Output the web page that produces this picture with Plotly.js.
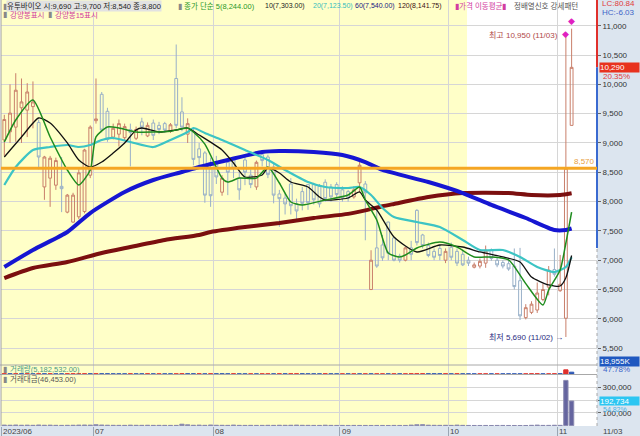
<!DOCTYPE html>
<html><head><meta charset="utf-8">
<script src="https://cdn.plot.ly/plotly-3.0.1.min.js"></script>
<style>html,body{margin:0;padding:0;background:#fff}#chart{width:640px;height:436px}</style>
</head><body><div id="chart"></div>
<script>
const dates = [
'2023-06-09','2023-06-12','2023-06-13','2023-06-14','2023-06-15','2023-06-16','2023-06-19','2023-06-20','2023-06-21','2023-06-22','2023-06-23','2023-06-26','2023-06-27','2023-06-28','2023-06-29','2023-06-30',
'2023-07-03','2023-07-04','2023-07-05','2023-07-06','2023-07-07','2023-07-10','2023-07-11','2023-07-12','2023-07-13','2023-07-14','2023-07-17','2023-07-18','2023-07-19','2023-07-20','2023-07-21','2023-07-24','2023-07-25','2023-07-26','2023-07-27','2023-07-28','2023-07-31',
'2023-08-01','2023-08-02','2023-08-03','2023-08-04','2023-08-07','2023-08-08','2023-08-09','2023-08-10','2023-08-11','2023-08-14','2023-08-16','2023-08-17','2023-08-18','2023-08-21','2023-08-22','2023-08-23','2023-08-24','2023-08-25','2023-08-28','2023-08-29','2023-08-30','2023-08-31',
'2023-09-01','2023-09-04','2023-09-05','2023-09-06','2023-09-07','2023-09-08','2023-09-11','2023-09-12','2023-09-13','2023-09-14','2023-09-15','2023-09-18','2023-09-19','2023-09-20','2023-09-21','2023-09-22','2023-09-25','2023-09-26','2023-09-27',
'2023-10-04','2023-10-05','2023-10-06','2023-10-10','2023-10-11','2023-10-12','2023-10-13','2023-10-16','2023-10-17','2023-10-18','2023-10-19','2023-10-20','2023-10-23','2023-10-24','2023-10-25','2023-10-26','2023-10-27','2023-10-30','2023-10-31',
'2023-11-01','2023-11-02','2023-11-03'];

const opens = [9050,9190,9270,9600,9560,9620,9350,8250,8400,8280, 8260,7820,7650,7740,7830,8450,9380,9830,9540,9100,
 9150,9090,9230,9080,9360,9120,9340,9300,9330,9200, 10100,9530,9150,9200,8900,8830,8560,8670,8160,8670,
 8720,8400,8710,8450,8250,8800,8760,8590,8130,8060, 8300,7960,8170,8290,8290,8260,8330,8250,8290,8200,
 8170,8080,8320,8300,6500,7210,7260,7650,7380,7070, 7000,7210,7850,7430,7250,7150,7200,7000,7220,7150,
 7100,7000,6880,6900,6950,7170,7000,6960,6940,6900, 6650,6020,6110,6150,6330,6540,6840,6480,6010,9300];
const highs = [9480,10000,10190,10100,10020,10050,9400,8780,8780,8750, 8760,8130,8150,8550,8900,9300,10100,9870,9600,9330,
 9400,9330,9330,9280,9430,9350,9400,9360,9360,9340, 10680,9780,9420,9250,9000,8860,8750,8780,8450,8700,
 8760,8500,8760,8550,8700,8880,8800,8640,8200,8150, 8400,8050,8250,8290,8320,8300,8380,8300,8330,8260,
 8200,8260,8700,8350,7170,7850,7430,7660,7400,7110, 7230,7330,7870,7450,7300,7200,7260,7200,7300,7200,
 7180,7060,6960,7030,7250,7200,7050,7000,6990,7200, 7210,6250,6300,6620,6600,6900,7200,7090,10850,10950];
const lows = [8780,9000,9020,9000,9100,9250,8550,8030,7910,8200, 7820,7800,7640,7700,7800,8400,9330,9180,9020,9060,
 8940,9050,8600,9050,9130,9100,9050,9150,9180,9170, 9250,9200,9000,8620,8600,7980,7910,8300,8100,8110,
 8400,8030,8280,8230,8200,8600,8400,7970,7570,7780, 7780,7690,7850,7860,7950,7900,8000,8000,8060,8000,
 8000,8050,8150,7340,6490,6870,6990,7000,6980,6960, 6980,7000,7250,7200,7050,7000,7000,6950,7000,6900,
 6900,6900,6860,6860,6870,6990,6880,6860,6820,6500, 5980,5990,6080,6100,6300,6400,6720,6460,5690,9300];
const closes = [9400,9510,9900,9700,9870,9700,8760,8760,8740,8700, 8220,8110,8110,8490,8880,9270,9410,9220,9060,9250,
 9330,9280,9180,9230,9270,9300,9130,9230,9220,9310, 9300,9270,9330,8720,8750,8110,8100,8420,8400,8500,
 8570,8200,8500,8290,8670,8700,8460,8110,8050,7960, 7930,7840,7970,7980,8030,7960,8050,8080,8120,8060,
 8060,8200,8620,8150,7000,6900,7040,7120,7000,7000, 7210,7100,7300,7250,7080,7050,7080,7150,7050,6950,
 6920,6950,6920,6980,7170,7030,6920,6900,6850,6550, 6050,6190,6250,6440,6500,6830,6760,6590,8570,10290];

const volumeK = [420,330,470,290,370,240,540,310,400,260,230,290,340,450,520,430,
 700,480,330,250,230,210,390,280,240,300,220,230,210,190,190,1070,630,290,410,250,560,
 340,290,240,500,230,200,250,200,220,280,240,370,300,340,480,290,260,210,200,400,230,190,
 200,170,200,160,180,150,160,170,140,190,160,170,470,870,1030,470,330,290,350,
 250,550,270,180,160,160,170,150,200,180,160,140,130,140,330,630,240,270,420,
 320,44500,18955];
const tradeValue = [3900,3100,4500,2800,3600,2300,4800,2800,3500,2200,1800,2300,2800,3900,4500,3800,
 6700,4500,3000,2300,2100,1900,3600,2500,2200,2800,2000,2100,1900,1800,1800,11000,6000,2600,3800,2200,4700,
 2800,2400,2000,4200,1900,1700,2100,1700,1800,2300,1900,2900,2400,2800,3900,2500,2100,1700,1600,3200,1800,1500,
 1600,1400,1600,1300,1400,1200,1300,1400,1100,1500,1300,1400,3900,6600,7400,3300,2300,2000,2500,
 1800,3900,1900,1300,1100,1100,1200,1000,1400,1300,1100,1000,900,1000,2200,3900,1600,1800,2800,
 2100,354000,192734];

const ma5Idx = [0,2,5,8,11,13,15,16,18,20,23,26,29,32,33,35,38,39,41,44,46,48,50,52,56,60,62,63,65,67,69,70,72,76,79,82,85,88,91,94,95,97,98,99];
const ma5Val = [9016,9392,9733,9102,8539,8283,8539,9102,9272,9255,9187,9187,9200,9255,9187,8980,8400,8334,8402,8400,8590,8317,7993,7942,8027,8112,8249,8027,7686,7123,7055,7089,7208,7310,7225,7055,7055,7004,6600,6236,6492,6833,7293,7820];
const ma10Idx = [0,3,6,8,11,13,15,17,19,21,23,24,27,30,32,34,38,40,42,45,46,48,50,53,55,56,60,62,63,65,68,72,76,80,83,87,90,92,95,97,98,99];
const ma10Val = [8761,9102,9426,9341,9000,8710,8590,8675,8829,9000,9221,9255,9187,9221,9255,9136,8880,8658,8419,8454,8573,8488,8334,8249,8078,8027,8061,8164,8027,7856,7396,7140,7259,7225,7140,7055,6969,6713,6577,6560,6700,7080];
const ma20Idx = [0,2,5,8,11,13,15,17,19,22,26,29,32,33,35,38,42,46,49,53,56,60,62,64,66,68,72,76,80,83,87,90,93,96,98,99];
const ma20Val = [8283,8590,8880,8931,8965,8931,8965,9051,9085,9016,8931,9051,9187,9255,9170,9051,8880,8710,8539,8334,8249,8232,8249,8112,7891,7737,7652,7566,7345,7174,7174,7055,6884,6799,6884,7050];
const ma60Idx = [0,5,11,15,21,26,31,34,39,45,48,54,59,63,66,74,80,85,91,96,98,99];
const ma60Val = [6884,7174,7481,7805,8164,8368,8505,8590,8710,8846,8863,8846,8795,8675,8539,8334,8146,7942,7720,7515,7515,7540];
const ma120Idx = [0,5,11,17,22,28,34,36,42,48,54,60,63,66,68,74,80,88,92,97,99];
const ma120Val = [6696,6867,6969,7123,7225,7345,7430,7481,7566,7635,7720,7790,7850,7920,7960,8078,8146,8146,8112,8112,8142];

const monthStarts = ['2023-06-09','2023-07-03','2023-08-01','2023-09-01','2023-10-04','2023-11-01'];
const monthLabels = ['2023/06','07','08','09','10','11'];
const levelPrice = 8570;
const hcLowPrice = 7210;
const volTicks = [100000,200000,300000];
const volTickText = ['100,000','','300,000'];

const FONT = 'Liberation Sans, Noto Sans CJK KR, sans-serif';
const W = 640, H = 436;
const px = v => v / W;
const py = v => 1 - v / H;
const X = dates.map((d, i) => i);
const monthIdx = monthStarts.map(d => dates.indexOf(d));
const gridX = monthIdx.map(i => i - 0.5);
const last = dates.length - 1;
const fmt = v => v.toLocaleString('en-US');

const volColors = volumeK.map((v, i) => (i === 0 || v >= volumeK[i-1]) ? '#e0302c' : '#2c56b4');

const traces = [
  {type:'candlestick', x:X, open:opens, high:highs, low:lows, close:closes, xaxis:'x', yaxis:'y',
   whiskerwidth:0, hoverinfo:'skip',
   increasing:{line:{color:'#c97f6a', width:1}, fillcolor:'rgba(0,0,0,0)'},
   decreasing:{line:{color:'#98b0c8', width:1}, fillcolor:'rgba(0,0,0,0)'}},
  {type:'scatter', mode:'lines', x:ma120Idx, y:ma120Val, yaxis:'y', line:{color:'#7b0f0f', width:4, shape:'spline', smoothing:0.6}, hoverinfo:'skip'},
  {type:'scatter', mode:'lines', x:ma60Idx, y:ma60Val, yaxis:'y', line:{color:'#1616d2', width:4, shape:'spline', smoothing:0.6}, hoverinfo:'skip'},
  {type:'scatter', mode:'lines', x:ma20Idx, y:ma20Val, yaxis:'y', line:{color:'#3cc4c4', width:2.2, shape:'spline', smoothing:0.6}, hoverinfo:'skip'},
  {type:'scatter', mode:'lines', x:ma10Idx, y:ma10Val, yaxis:'y', line:{color:'#111111', width:1.3, shape:'spline', smoothing:0.6}, hoverinfo:'skip'},
  {type:'scatter', mode:'lines', x:ma5Idx, y:ma5Val, yaxis:'y', line:{color:'#1e8c1e', width:1.5, shape:'spline', smoothing:0.6}, hoverinfo:'skip'},
  {type:'bar', x:X, y:volumeK, yaxis:'y2', width:0.75, marker:{color:volColors, line:{color:volColors, width:1}}, hoverinfo:'skip'},
  {type:'bar', x:X, y:tradeValue, yaxis:'y3', width:0.75, marker:{color:'#65659f', line:{color:'#8a8ab0', width:1}}, hoverinfo:'skip'}
];

function A(x, y, text, color, opt) {
  return Object.assign({xref:'paper', yref:'paper', x:px(x), y:py(y), text:text, showarrow:false,
    xanchor:'left', yanchor:'middle', font:{family:FONT, size:7.5, color:color}}, opt || {});
}
const f7 = c => ({font:{family:FONT, size:7, color:c}});
const f8 = c => ({font:{family:FONT, size:8, color:c}});

const annotations = [
  A(1, 6, '▮', '#888'),
  A(6, 6, '유투바이오 시:9,690 고:9,700 저:8,540 종:8,800', '#222', {bgcolor:'#e2e2e2', borderpad:0}),
  A(176, 6, '▮', '#888'),
  A(182, 6, '종가 단순 5(8,244.00)', '#2a982a'),
  A(263, 6, '10(7,303.00)', '#222', f7('#222')),
  A(311, 6, '20(7,123.50)', '#35bcbc', f7('#35bcbc')),
  A(353, 6, '60(7,540.00)', '#202080', f7('#202080')),
  A(396, 6, '120(8,141.75)', '#3a1010', f7('#3a1010')),
  A(453, 6, '▮가격 이동평균▮', '#d23ca0'),
  A(512, 6, '정배열신호 강세패턴', '#555'),
  A(1, 15, '▮', '#888'),
  A(8, 15, '강양봉표시', '#d23ca0'),
  A(46, 15, '▮', '#888'),
  A(53, 15, '강양봉15표시', '#d23ca0'),
  A(600, 4, 'LC:80.84', '#e03c3c', f8('#e03c3c')),
  A(600, 13, 'HC:-6.03', '#3c64c8', f8('#3c64c8')),
  {xref:'paper', yref:'y', x:px(599), y:closes[last], text:fmt(closes[last]), showarrow:false, xanchor:'left', yanchor:'middle',
   bgcolor:'#e8321e', width:39, height:9, align:'left', borderpad:0, font:{family:FONT, size:8, color:'#fff'}},
  A(601, 76, '20.35%', '#e03c3c', f8('#e03c3c')),
  A(599, 361, fmt(volumeK[last]) + 'K', '#fff', {bgcolor:'#1f58c0', width:39, height:9, align:'left', borderpad:0, font:{family:FONT, size:8, color:'#fff'}}),
  A(601, 369.5, '47.78%', '#3c64c8', f8('#3c64c8')),
  {xref:'paper', yref:'y3', x:px(599), y:tradeValue[last], text:fmt(tradeValue[last]), showarrow:false, xanchor:'left', yanchor:'middle',
   bgcolor:'#2cc6f2', width:39, height:8, align:'left', borderpad:0, font:{family:FONT, size:8, color:'#fff'}},
  A(601, 409, '54.82%', '#4ab4e6', f7('#4ab4e6')),
  {xref:'paper', yref:'y', x:px(597), y:levelPrice, text:fmt(levelPrice), showarrow:false, xanchor:'right', yanchor:'bottom',
   font:{family:FONT, size:8, color:'#e8a040'}},
  {xref:'x', yref:'y', x:last-1, y:highs[last-1], text:'최고 10,950 (11/03)', showarrow:false, xanchor:'right', yanchor:'middle', xshift:-6,
   font:{family:FONT, size:8, color:'#b04848'}},
  {xref:'x', yref:'y', x:last-1, y:highs[last-1], text:'◆', showarrow:false, xanchor:'center', yanchor:'middle',
   font:{family:FONT, size:7, color:'#e020c0'}},
  {xref:'x', yref:'y', x:last, y:highs[last], text:'◆', showarrow:false, xanchor:'center', yanchor:'middle', yshift:7,
   font:{family:FONT, size:7, color:'#e020c0'}},
  {xref:'x', yref:'y', x:last-1, y:lows[last-1], text:'최저 5,690 (11/02) →', showarrow:false, xanchor:'right', yanchor:'middle', xshift:-1,
   font:{family:FONT, size:8, color:'#2a2a80'}},
  A(1, 369, '▮', '#888'),
  A(8, 369, '거래량(5,182,532.00)', '#4a9a86'),
  A(1, 379, '▮', '#888'),
  A(8, 379, '거래대금(46,453.00)', '#555'),
  A(601, 431, '11/03', '#444', f8('#444'))
];
monthIdx.forEach((mi, k) => {
  annotations.push({xref:'x', yref:'paper', x:mi - 0.5, y:py(431), text:monthLabels[k], showarrow:false,
    xanchor:'left', yanchor:'middle', font:{family:FONT, size:8, color:'#444'}});
});

const shapes = [
  {type:'rect', xref:'paper', yref:'paper', x0:px(597), x1:1, y0:0, y1:1, fillcolor:'#dce5ef', line:{width:0}, layer:'below'},
  {type:'rect', xref:'paper', yref:'paper', x0:0, x1:1, y0:0, y1:py(426), fillcolor:'#dce5ef', line:{width:0}, layer:'below'},
  {type:'rect', xref:'x', yref:'paper', x0:-0.6, x1:80.75, y0:py(426), y1:1, fillcolor:'#ffffc8', line:{width:0}, layer:'below'},
  {type:'line', xref:'paper', yref:'paper', x0:0, x1:px(597), y0:py(365), y1:py(365), line:{color:'#a8a8a8', width:1}},
  {type:'line', xref:'paper', yref:'paper', x0:0, x1:px(597), y0:py(374.5), y1:py(374.5), line:{color:'#a8a8a8', width:1}},
  {type:'line', xref:'paper', yref:'paper', x0:px(1), x1:px(1), y0:py(426), y1:1, line:{color:'#a0a0a0', width:1}},
  {type:'line', xref:'paper', yref:'paper', x0:px(597), x1:px(597), y0:py(426), y1:1, line:{color:'#a8a8a8', width:1, dash:'dot'}},
  {type:'line', xref:'paper', yref:'y', x0:px(597), x1:px(597), y0:closes[last], y1:11439, line:{color:'#e0302c', width:2}},
  {type:'line', xref:'paper', yref:'y', x0:px(597), x1:px(597), y0:hcLowPrice, y1:closes[last], line:{color:'#3a6ad0', width:2}},
  {type:'line', xref:'paper', yref:'y', x0:px(1), x1:px(597), y0:levelPrice, y1:levelPrice, line:{color:'#f5a623', width:3}}
];

const layout = {
  width:W, height:H, margin:{l:0, r:0, t:0, b:0}, paper_bgcolor:'#ffffff', plot_bgcolor:'rgba(0,0,0,0)',
  showlegend:false, barmode:'overlay', font:{family:FONT, size:8, color:'#333'}, hovermode:false,
  xaxis:{domain:[px(1), px(597)], range:[-0.576, 103.43], anchor:'y3', tickmode:'array', tickvals:gridX,
    showticklabels:false, ticks:'outside', ticklen:10, tickcolor:'#9aa6b4', showgrid:true, gridcolor:'#d6d6d6',
    zeroline:false, showline:false, rangeslider:{visible:false}, fixedrange:true},
  yaxis:{domain:[py(365), 1], range:[5212, 11439], side:'right', anchor:'x', dtick:500, tick0:0, tickformat:',d',
    ticks:'outside', ticklen:3, tickcolor:'#666', showgrid:true, gridcolor:'#d6d6d6', zeroline:false, showline:false,
    tickfont:{family:FONT, size:8, color:'#333'}, fixedrange:true},
  yaxis2:{domain:[py(374.5), py(365)], range:[-6600, 98000], side:'right', anchor:'x', showticklabels:false,
    ticks:'', showgrid:false, zeroline:false, showline:false, fixedrange:true},
  yaxis3:{domain:[py(426), py(374.5)], range:[-3000, 400000], side:'right', anchor:'x', tickmode:'array', tickvals:volTicks,
    ticktext:volTickText, ticks:'outside', ticklen:3, tickcolor:'#666', showgrid:true, gridcolor:'#d6d6d6', zeroline:false,
    showline:false, tickfont:{family:FONT, size:8, color:'#333'}, fixedrange:true},
  annotations:annotations,
  shapes:shapes
};

Plotly.newPlot('chart', traces, layout, {displayModeBar:false, staticPlot:true});
</script>
</body></html>
